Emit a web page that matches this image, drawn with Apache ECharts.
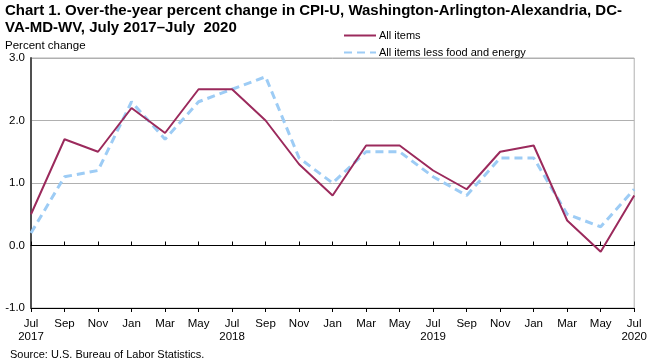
<!DOCTYPE html>
<html><head><meta charset="utf-8">
<script src="https://cdn.jsdelivr.net/npm/echarts@6/dist/echarts.min.js"></script>
<style>html,body{margin:0;padding:0;background:#fff}#c{width:650px;height:362px}</style>
</head><body><div id="c"></div>
<script>
var categories = ["Jul\n2017","Sep","Nov","Jan","Mar","May","Jul\n2018","Sep","Nov","Jan","Mar","May","Jul\n2019","Sep","Nov","Jan","Mar","May","Jul\n2020"];
var allItems = [0.5,1.7,1.5,2.2,1.8,2.5,2.5,2.0,1.3,0.8,1.6,1.6,1.2,0.9,1.5,1.6,0.4,-0.1,0.8];
var coreItems = [0.2,1.1,1.2,2.3,1.7,2.3,2.5,2.7,1.4,1.0,1.5,1.5,1.1,0.8,1.4,1.4,0.5,0.3,0.9];
var yTicks = {min:-1, max:3, interval:1};
var FONT = "Liberation Sans";
var chart = echarts.init(document.getElementById('c'), null, {renderer:'canvas'});
chart.setOption({
  animation:false,
  title:{text:"Chart 1. Over-the-year percent change in CPI-U, Washington-Arlington-Alexandria, DC-\nVA-MD-WV, July 2017\u2013July  2020", left:5, top:2, padding:0,
    textStyle:{fontFamily:FONT, fontSize:15, fontWeight:'bold', color:'#000', lineHeight:17}},
  legend:{orient:'vertical', left:343, top:30, padding:0, itemWidth:32, itemHeight:10, itemGap:6,
    itemStyle:{opacity:0},
    textStyle:{fontFamily:FONT, fontSize:11, color:'#000', padding:[0,0,0,-2]},
    data:['All items','All items less food and energy']},
  grid:{left:31, right:14, top:58, bottom:54, show:true, borderColor:'#b0b0b0', borderWidth:1},
  graphic:[
    {type:'text', left:5, top:40, style:{text:'Percent change', fontFamily:FONT, fontSize:11.5, fill:'#000'}},
    {type:'text', left:10, top:349, style:{text:'Source: U.S. Bureau of Labor Statistics.', fontFamily:FONT, fontSize:11, fill:'#000'}}
  ],
  xAxis:[
    {type:'category', data:categories, boundaryGap:false, position:'bottom',
      axisLine:{onZero:false, lineStyle:{color:'#b0b0b0'}}, axisTick:{show:false},
      axisLabel:{fontFamily:FONT, fontSize:11.5, color:'#000', margin:9, lineHeight:13, interval:0}},
    {type:'category', data:categories, boundaryGap:false, position:'bottom',
      axisLine:{onZero:true, lineStyle:{color:'#000', width:1}}, axisTick:{show:true, inside:true, length:4, lineStyle:{color:'#000'}, interval:0},
      axisLabel:{show:false}},
    {type:'category', data:categories, boundaryGap:false, position:'bottom',
      axisLine:{onZero:true, lineStyle:{color:'#000', width:1}}, axisTick:{show:true, inside:false, length:4, lineStyle:{color:'#000'}, interval:0},
      axisLabel:{show:false}}
  ],
  yAxis:{type:'value', min:yTicks.min, max:yTicks.max, interval:yTicks.interval,
    axisLine:{show:true, lineStyle:{color:'#505050', width:2}}, axisTick:{show:false},
    splitLine:{lineStyle:{color:'#b0b0b0', width:1}},
    axisLabel:{fontFamily:FONT, fontSize:11.5, color:'#000', margin:6, formatter:function(v){return v.toFixed(1);}}},
  series:[
    {name:'All items', type:'line', data:allItems, xAxisIndex:0, symbol:'none', z:3,
      lineStyle:{color:'#9B2A5C', width:2}, itemStyle:{color:'#9B2A5C'}},
    {name:'All items less food and energy', type:'line', data:coreItems, xAxisIndex:0, symbol:'none', z:2,
      lineStyle:{color:'#9DCCF5', width:3, type:[8,5]}, itemStyle:{color:'#9DCCF5'}},
    {type:'line', data:[], xAxisIndex:1, silent:true},
    {type:'line', data:[], xAxisIndex:2, silent:true}
  ]
});
</script></body></html>
